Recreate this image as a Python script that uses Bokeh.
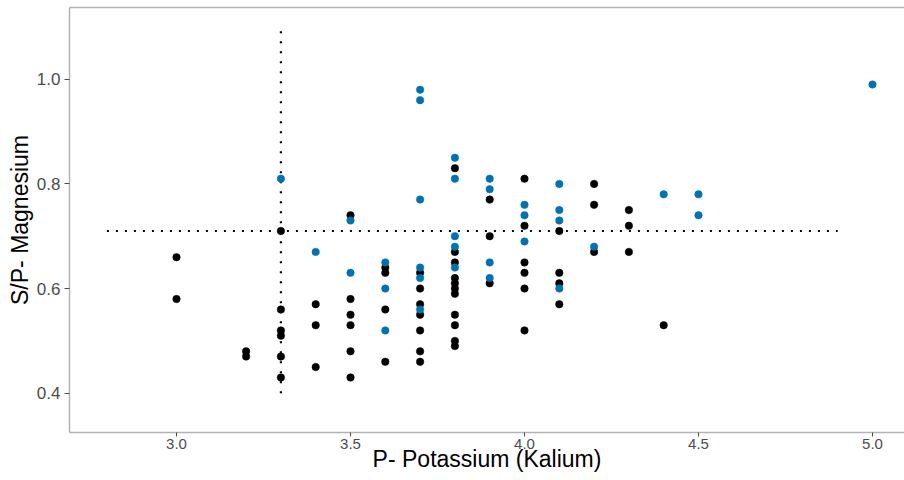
from bokeh.plotting import figure
from bokeh.models import Range1d, FixedTicker, NumeralTickFormatter, LinearAxis
from bokeh.embed import file_html
from bokeh.resources import INLINE

# ---- data ----
black_x = [3.0, 3.0,
           3.2, 3.2,
           3.3, 3.3, 3.3, 3.3, 3.3, 3.3,
           3.4, 3.4, 3.4,
           3.5, 3.5, 3.5, 3.5, 3.5, 3.5,
           3.6, 3.6, 3.6, 3.6,
           3.7, 3.7, 3.7, 3.7, 3.7, 3.7, 3.7,
           3.8, 3.8, 3.8, 3.8, 3.8, 3.8, 3.8, 3.8, 3.8, 3.8, 3.8,
           3.9, 3.9, 3.9,
           4.0, 4.0, 4.0, 4.0, 4.0, 4.0,
           4.1, 4.1, 4.1, 4.1,
           4.2, 4.2, 4.2,
           4.3, 4.3, 4.3,
           4.4]
black_y = [0.66, 0.58,
           0.48, 0.47,
           0.71, 0.56, 0.52, 0.51, 0.47, 0.43,
           0.57, 0.53, 0.45,
           0.74, 0.58, 0.55, 0.53, 0.48, 0.43,
           0.64, 0.63, 0.56, 0.46,
           0.63, 0.60, 0.57, 0.55, 0.52, 0.48, 0.46,
           0.83, 0.67, 0.65, 0.62, 0.61, 0.60, 0.59, 0.55, 0.53, 0.50, 0.49,
           0.77, 0.70, 0.61,
           0.81, 0.72, 0.65, 0.63, 0.60, 0.52,
           0.71, 0.63, 0.61, 0.57,
           0.80, 0.76, 0.67,
           0.75, 0.72, 0.67,
           0.53]

blue_x = [3.3,
          3.4,
          3.5, 3.5,
          3.6, 3.6, 3.6,
          3.7, 3.7, 3.7, 3.7, 3.7, 3.7,
          3.8, 3.8, 3.8, 3.8, 3.8,
          3.9, 3.9, 3.9, 3.9,
          4.0, 4.0, 4.0,
          4.1, 4.1, 4.1, 4.1,
          4.2,
          4.4,
          4.5, 4.5,
          5.0]
blue_y = [0.81,
          0.67,
          0.73, 0.63,
          0.65, 0.60, 0.52,
          0.98, 0.96, 0.77, 0.64, 0.62, 0.56,
          0.85, 0.81, 0.70, 0.68, 0.64,
          0.81, 0.79, 0.65, 0.62,
          0.76, 0.74, 0.69,
          0.80, 0.75, 0.73, 0.60,
          0.68,
          0.78,
          0.78, 0.74,
          0.99]

# reference (cut-off) lines
k_cut = 3.3
k_cut_y = [0.40, 1.10]
mg_cut = 0.71
mg_cut_x = [2.8, 4.9]

x_ticks = [3.0, 3.5, 4.0, 4.5, 5.0]
y_ticks = [0.4, 0.6, 0.8, 1.0]

x_title = "P- Potassium (Kalium)"
y_title = "S/P- Magnesium"

FONT = "Liberation Sans"
BORDER = "#b3b3b3"

p = figure(width=904, height=480, output_backend="svg", toolbar_location=None,
           x_range=Range1d(2.6925, 5.092), y_range=Range1d(0.3249, 1.1371),
           min_border_left=69, min_border_right=0, min_border_top=7,
           min_border_bottom=48)

p.background_fill_color = "white"
p.border_fill_color = "white"
p.outline_line_color = None
p.xgrid.visible = False
p.ygrid.visible = False

for ax in (p.xaxis[0], p.yaxis[0]):
    ax.axis_line_color = BORDER
    ax.axis_line_width = 1.5
    ax.major_tick_line_color = "#4d4d4d"
    ax.major_tick_line_width = 1
    ax.minor_tick_line_color = None
    ax.major_tick_in = 0
    ax.major_label_text_color = "#4d4d4d"
    ax.major_label_text_font = FONT
    ax.axis_label_text_font = FONT
    ax.axis_label_text_font_style = "normal"
    ax.axis_label_text_color = "black"
    ax.axis_label_text_font_size = "23px"

p.xaxis.ticker = FixedTicker(ticks=x_ticks)
p.yaxis.ticker = FixedTicker(ticks=y_ticks)
p.xaxis.formatter = NumeralTickFormatter(format="0.0")
p.yaxis.formatter = NumeralTickFormatter(format="0.0")

p.xaxis.major_tick_out = 4
p.xaxis.major_label_standoff = 2
p.xaxis.major_label_text_font_size = "15px"
p.xaxis.axis_label = x_title
p.xaxis.axis_label_standoff = -6

p.yaxis.major_tick_out = 5
p.yaxis.major_label_standoff = 4
p.yaxis.major_label_text_font_size = "17px"
p.yaxis.axis_label = y_title
p.yaxis.axis_label_standoff = 1

# top panel border as an empty axis
top = LinearAxis(ticker=FixedTicker(ticks=[]), axis_line_color=BORDER,
                 axis_line_width=1.5, major_tick_out=0, major_tick_in=0,
                 minor_tick_line_color=None, major_label_standoff=0,
                 major_label_text_font_size="0px")
p.add_layout(top, "above")

# dotted cut-off lines
p.line(x=[k_cut, k_cut], y=k_cut_y, line_color="black", line_width=2.2,
       line_dash="2 8", line_cap="butt")
p.line(x=mg_cut_x, y=[mg_cut, mg_cut], line_color="black", line_width=2.2,
       line_dash="2 7", line_cap="butt")

p.scatter(x=black_x, y=black_y, size=7.5, fill_color="black", line_color="black",
          line_width=0.5)
p.scatter(x=blue_x, y=blue_y, size=7.5, fill_color="#0072B2", line_color="#0072B2",
          line_width=0.5)

open("out.html", "w").write(file_html(p, INLINE))
